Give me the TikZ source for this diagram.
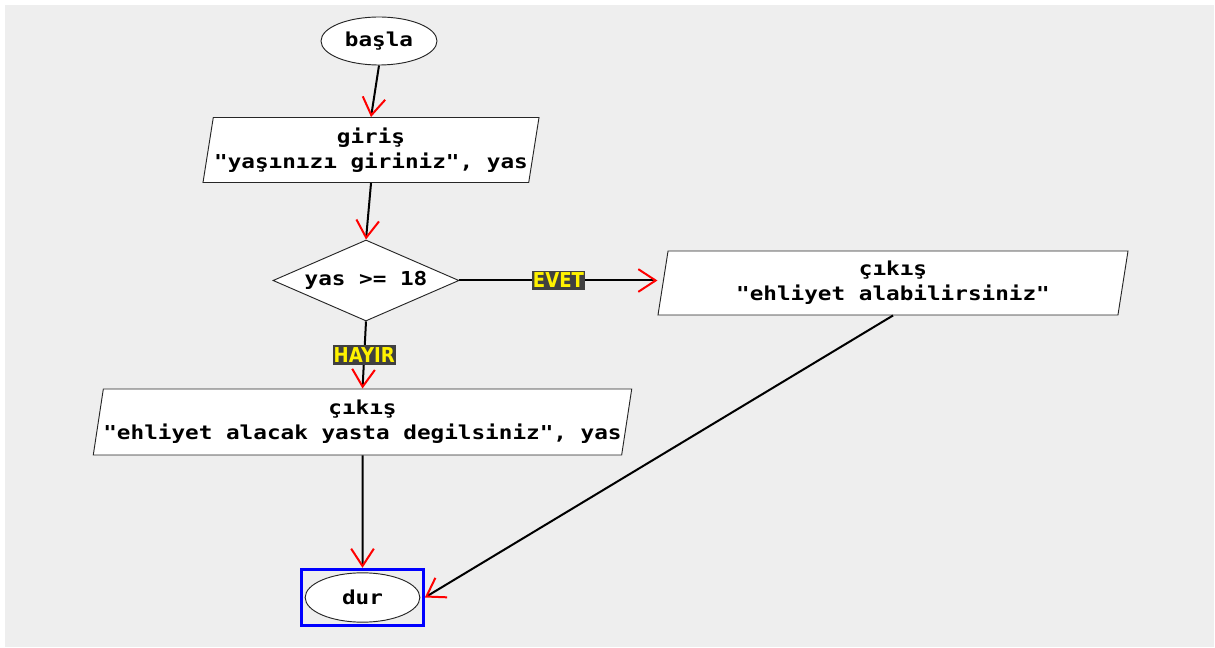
\documentclass[tikz,border=0pt]{standalone}
\usepackage{fontspec}
\usetikzlibrary{shapes.geometric,arrows.meta,fit}
\newfontfamily\akisyazi{DejaVu Sans Mono}[FakeStretch=1.18]
\newfontfamily\etiketyazi{DejaVu Sans}[FakeStretch=0.88]
\definecolor{zemin}{HTML}{EEEEEE}
\definecolor{etiketzemin}{HTML}{404040}

\begin{document}
\begin{tikzpicture}[x=0.75pt,y=-0.75pt,
  kutu/.style={draw=black!85,fill=white,line width=0.7pt,inner sep=0pt,align=center,
    font=\akisyazi\bfseries\fontsize{14.4}{18.75}\selectfont},
  uc/.style={kutu,ellipse},
  karar/.style={kutu,diamond,aspect=2.3},
  giriscikis/.style={kutu,trapezium,trapezium left angle=77,trapezium right angle=103,
    trapezium stretches body},
  ok/.style={line width=1.5pt,-{Straight Barb[red,length=13pt,width=17pt,line width=1.5pt]}},
  etiket/.style={fill=etiketzemin,text=yellow,inner xsep=0.6pt,inner ysep=1.8pt,
    font=\etiketyazi\bfseries\fontsize{15.4}{16}\selectfont}]
\useasboundingbox (0,0) rectangle (1215,648);
\fill[white] (0,0) rectangle (1215,648);
\fill[zemin] (5,5) rectangle (1214,647);

\node[uc,minimum width=87pt,minimum height=36pt] (basla) at (379,41) {başla};
\node[giriscikis,minimum width=252pt,minimum height=48.75pt] (giris) at (371,150)
  {giriş\\"yaşınızı giriniz", yas};
\node[karar,minimum width=139.5pt,minimum height=60.75pt] (yas) at (366,280.5) {yas >= 18};
\node[giriscikis,minimum width=352.5pt,minimum height=48pt] (evet) at (893,283)
  {çıkış\\"ehliyet alabilirsiniz"};
\node[giriscikis,minimum width=401pt,minimum height=49.5pt] (hayir) at (362.5,422)
  {çıkış\\"ehliyet alacak yasta degilsiniz", yas};
\node[uc,minimum width=86pt,minimum height=37pt] (dur) at (362.5,597.5) {dur};
\node[draw=blue,line width=2.25pt,inner sep=2.25pt,fit=(dur)] (secili) {};

\draw[ok] (basla.south) -- (giris.north);
\draw[ok] (giris.south) -- (yas.north);
\draw[ok] (yas.east) -- node[etiket] {EVET} (yas.east -| evet.bottom left corner);
\draw[ok] (yas.south) -- node[etiket] {HAYIR} (hayir.north);
\draw[ok] (hayir.south) -- (secili.north);
\draw[ok] (evet.south) -- (secili.east);
\end{tikzpicture}
\end{document}
